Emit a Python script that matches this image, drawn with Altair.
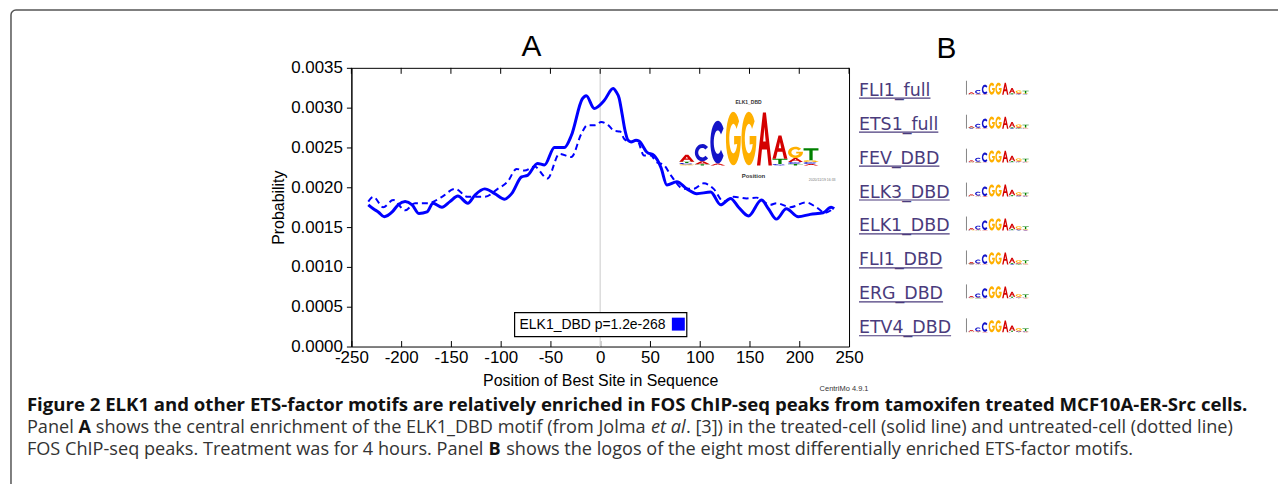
import math
import altair as alt
import pandas as pd

# ---------------- data ----------------
solid_pos = [-233, -228, -223, -217, -209, -203, -196, -189, -182, -174, -168, -159, -151, -143, -133,
             -126, -116, -106, -96, -89, -79, -73, -63, -56, -46, -36, -29, -18, -14, -6,
             4, 13, 16, 19, 22, 25, 28, 31, 36, 39, 47, 54, 61, 67, 77,
             87, 97, 111, 121, 131, 139, 149, 162, 169, 177, 187, 199, 211, 224, 232, 235]
solid_prob = [0.00178, 0.00173, 0.00169, 0.00163, 0.00169, 0.00178, 0.00182, 0.00178, 0.00167, 0.00169,
              0.00180, 0.00175, 0.00182, 0.00189, 0.00180, 0.00190, 0.00198, 0.00192, 0.00185, 0.00192,
              0.00213, 0.00215, 0.00230, 0.00228, 0.00250, 0.00250, 0.00265, 0.00311, 0.00315, 0.00299,
              0.00309, 0.00324, 0.00320, 0.00312, 0.00292, 0.00271, 0.00259, 0.00257, 0.00259, 0.00258,
              0.00244, 0.00240, 0.00225, 0.00203, 0.00207, 0.00198, 0.00192, 0.00194, 0.00178, 0.00186,
              0.00175, 0.00164, 0.00184, 0.00173, 0.00160, 0.00173, 0.00163, 0.00166, 0.00168, 0.00175,
              0.00173]
dashed_pos = [-233, -228, -218, -208, -196, -186, -173, -159, -146, -133, -116, -103, -93, -84, -76,
              -66, -53, -41, -29, -19, -13, -5, 1, 8, 14, 20, 24, 30, 37, 44,
              51, 56, 64, 71, 84, 94, 104, 114, 124, 134, 147, 157, 171, 177, 191,
              207, 217, 226, 234]
dashed_prob = [0.00182, 0.00188, 0.00175, 0.00184, 0.00171, 0.00180, 0.00180, 0.00188, 0.00198, 0.00188,
               0.00188, 0.00198, 0.00207, 0.00223, 0.00221, 0.00226, 0.00211, 0.00242, 0.00238, 0.00267,
               0.00278, 0.00278, 0.00282, 0.00278, 0.00271, 0.00270, 0.00261, 0.00257, 0.00259, 0.00240,
               0.00240, 0.00232, 0.00228, 0.00215, 0.00198, 0.00198, 0.00205, 0.00198, 0.00182, 0.00188,
               0.00186, 0.00187, 0.00178, 0.00180, 0.00175, 0.00181, 0.00175, 0.00168, 0.00173]
x_ticks = [-250, -200, -150, -100, -50, 0, 50, 100, 150, 200, 250]
y_ticks = [0.0, 0.0005, 0.0010, 0.0015, 0.0020, 0.0025, 0.0030, 0.0035]
legend_label = "ELK1_DBD p=1.2e-268"
x_title = "Position of Best Site in Sequence"
y_title = "Probability"
motif_names = ["FLI1_full", "ETS1_full", "FEV_DBD", "ELK3_DBD", "ELK1_DBD", "FLI1_DBD", "ERG_DBD", "ETV4_DBD"]
# sequence logo of ELK1_DBD: letters per column (bottom -> top) and their heights in bits
logo_letters = [["G", "C", "T", "A"], ["T", "A", "C"], ["A", "C"], ["G"], ["G"], ["A"],
                ["C", "T", "A"], ["T", "C", "A", "G"], ["A", "C", "G", "T"]]
logo_bits = [[0.04, 0.05, 0.04, 0.26], [0.04, 0.11, 0.63], [0.07, 1.56], [1.96], [1.96], [1.93],
             [0.05, 0.19, 0.85], [0.05, 0.07, 0.15, 0.41], [0.05, 0.07, 0.07, 0.44]]
caption_title = ("Figure 2 ELK1 and other ETS-factor motifs are relatively enriched in FOS ChIP-seq peaks "
                 "from tamoxifen treated MCF10A-ER-Src cells.")
caption_line2 = [("Panel ", "normal"), ("A ", "bold"),
                 ("shows the central enrichment of the ELK1_DBD motif (from Jolma ", "normal"),
                 ("et al", "italic"),
                 (". [3]) in the treated-cell (solid line) and untreated-cell (dotted line)", "normal")]
caption_line3 = [("FOS ChIP-seq peaks. Treatment was for 4 hours. Panel ", "normal"), ("B ", "bold"),
                 ("shows the logos of the eight most differentially enriched ETS-factor motifs.", "normal")]

# ---------------- layout helpers ----------------
W, H = 500, 280
OX, OY = 353, 67
TOTAL_W, TOTAL_H = 1276, 476
PAD = {"left": OX - 8, "top": OY - 8, "right": TOTAL_W - (OX - 8) - W, "bottom": TOTAL_H - (OY - 8) - H}


def rx(v):
    return v - OX


def ry(v):
    return v - OY


FONT_AX = "Liberation Sans"
BLUE = "#0000ff"
LETTER_COLORS = {"A": "#d40000", "C": "#1414c8", "G": "#ffb000", "T": "#008000"}

# approximate Open Sans advance widths (units of 1/2048 em)
OS = {" ": 532, "(": 596, ")": 596, ",": 502, "-": 659, ".": 545, "[": 678, "]": 678, "_": 869,
      "0": 1171, "1": 1171, "2": 1171, "3": 1171, "4": 1171, "5": 1171, "6": 1171, "7": 1171, "8": 1171, "9": 1171,
      "A": 1296, "B": 1327, "C": 1292, "D": 1493, "E": 1139, "F": 1057, "G": 1491, "H": 1511, "I": 571,
      "J": 547, "K": 1257, "L": 1073, "M": 1843, "N": 1544, "O": 1595, "P": 1233, "Q": 1595, "R": 1266,
      "S": 1104, "T": 1114, "U": 1503, "V": 1235, "W": 1870, "X": 1219, "Y": 1153, "Z": 1169,
      "a": 1139, "b": 1255, "c": 975, "d": 1255, "e": 1149, "f": 694, "g": 1122, "h": 1257, "i": 518,
      "j": 518, "k": 1075, "l": 518, "m": 1905, "n": 1257, "o": 1237, "p": 1255, "q": 1255, "r": 846,
      "s": 977, "t": 723, "u": 1257, "v": 1026, "w": 1593, "x": 1073, "y": 1028, "z": 965}
STYLE_FACTOR = {"normal": 1.0, "bold": 1.07, "italic": 0.97}


def em_width(s, style="normal"):
    return sum(OS.get(c, 1150) for c in s) / 2048.0 * STYLE_FACTOR[style]


# DejaVu Sans widths (em) for panel-B labels (underline length)
DJV = {"F": .575, "L": .557, "I": .295, "1": .636, "_": .5, "f": .352, "u": .634, "l": .278, "E": .632,
       "T": .611, "S": .635, "V": .684, "D": .770, "B": .686, "K": .656, "3": .636, "R": .695, "G": .775,
       "4": .636}


def ring(r, a0, a1, n=24):
    pts = []
    for i in range(n + 1):
        a = math.radians(a0 + (a1 - a0) * i / n)
        pts.append((r * math.cos(a), r * math.sin(a)))
    return pts


def sub(pts, k):
    return "M " + " L ".join(f"{x * k:.3f} {y:.3f}" for x, y in pts) + " Z"


def glyph(letter, k):
    if letter == "A":
        outer = [(-1, 1), (-0.2, -1), (0.2, -1), (1, 1), (0.55, 1), (0.33, 0.4), (-0.33, 0.4), (-0.55, 1)]
        hole = [(-0.17, 0.1), (0.17, 0.1), (0, -0.45)]
        return sub(outer, k) + " " + sub(hole, k)
    if letter == "C":
        return sub(ring(1, 40, 320) + ring(0.55, 320, 40), k)
    if letter == "G":
        return sub(ring(1, 320, 0) + [(1, -0.1), (0.1, -0.1), (0.1, 0.22)] + ring(0.55, 22, 320), k)
    return sub([(-1, -1), (1, -1), (1, -0.62), (0.22, -0.62), (0.22, 1), (-0.22, 1), (-0.22, -0.62),
                (-1, -0.62)], k)


def glyph_rows(x0, dx, base, ppb, w):
    rows = []
    for i, (letters, bits) in enumerate(zip(logo_letters, logo_bits)):
        cum = 0.0
        for L, b in zip(letters, bits):
            h = b * ppb
            rows.append({"gx": x0 + dx * i, "gy": base - cum - h / 2, "path": glyph(L, w / h),
                         "area": h * h, "fill": LETTER_COLORS[L]})
            cum += h
    return rows


def one():
    return alt.Data(values=[{"k": 0}])


def txt(t, x, y, **kw):
    return alt.Chart(one()).mark_text(text=t, **kw).encode(x=alt.value(x), y=alt.value(y))


# ---------------- main plot ----------------
x_scale = alt.Scale(domain=[-250, 250], nice=False, zero=False)
y_scale = alt.Scale(domain=[0, 0.0035], nice=False, zero=False)
x_axis = alt.Axis(orient="bottom", values=x_ticks, title=x_title, tickSize=6, offset=-6, domain=False,
                  grid=False, labelPadding=3, titlePadding=7, labelFlush=False, labelOverlap=False,
                  labelExpr="(datum.value < 0 ? '-' : '') + abs(datum.value)")
y_axis = alt.Axis(orient="left", values=y_ticks, format=".4f", title=y_title, tickSize=5,
                  labelPadding=4, titlePadding=4, grid=False, labelOverlap=False)
X = alt.X("pos:Q", scale=x_scale, axis=x_axis)
Y = alt.Y("prob:Q", scale=y_scale, axis=y_axis)

box = alt.Chart(one()).mark_rect(fillOpacity=0, stroke="#555555", strokeWidth=1.5, cornerRadius=5).encode(
    x=alt.value(rx(11)), x2=alt.value(rx(1400)), y=alt.value(ry(9)), y2=alt.value(ry(700)))

zero_rule = alt.Chart(pd.DataFrame({"pos": [0]})).mark_rule(color="#dcdcdc", strokeWidth=1.5).encode(x=X)

top_ticks = alt.Chart(pd.DataFrame({"pos": x_ticks})).mark_rule(color="black", strokeWidth=1).encode(
    x=X, y=alt.value(0), y2=alt.value(6))

dashed = alt.Chart(pd.DataFrame({"pos": dashed_pos, "prob": dashed_prob})).mark_line(
    color=BLUE, strokeWidth=2, strokeDash=[6, 4], interpolate="monotone").encode(x=X, y=Y)

solid = alt.Chart(pd.DataFrame({"pos": solid_pos, "prob": solid_prob})).mark_line(
    color=BLUE, strokeWidth=3, interpolate="monotone").encode(x=X, y=Y)

legend_box = alt.Chart(one()).mark_rect(fill="white", stroke="black", strokeWidth=1.2).encode(
    x=alt.value(rx(517)), x2=alt.value(rx(690)), y=alt.value(ry(313)), y2=alt.value(ry(337)))
legend_text = txt(legend_label, rx(522), ry(325.5), font=FONT_AX, fontSize=14, align="left", baseline="middle",
                  color="black")
legend_sq = alt.Chart(one()).mark_rect(fill=BLUE).encode(
    x=alt.value(rx(675)), x2=alt.value(rx(688)), y=alt.value(ry(318)), y2=alt.value(ry(331)))

# logos (main inset + eight small logos of panel B)
rows = glyph_rows(rx(690), 15.6, ry(165), 27.5, 15.0)
row_gap = 34.1
for r in range(len(motif_names)):
    rows += glyph_rows(rx(976), 6.8, ry(94 + row_gap * r), 6.2, 6.3)
glyphs = alt.Chart(pd.DataFrame(rows)).mark_point(filled=True, opacity=1, strokeWidth=0).encode(
    x=alt.X("gx:Q", scale=None, axis=None),
    y=alt.Y("gy:Q", scale=None, axis=None),
    shape=alt.Shape("path:N", scale=None, legend=None),
    size=alt.Size("area:Q", scale=None, legend=None),
    color=alt.Color("fill:N", scale=None, legend=None))

logo_title = txt("ELK1_DBD", rx(752), ry(101), font=FONT_AX, fontSize=5, fontWeight="bold", color="#333333")
logo_xlab = txt("Position", rx(757), ry(176), font=FONT_AX, fontSize=6, fontWeight="bold", color="#333333")
logo_date = txt("2020/11/19 16:33", rx(826), ry(180), font=FONT_AX, fontSize=3.5, color="#777777")
centrimo = txt("CentriMo 4.9.1", rx(848), ry(390), font=FONT_AX, fontSize=7.5, color="#333333")

title_a = txt("A", rx(534), ry(55), font=FONT_AX, fontSize=30, baseline="alphabetic", color="black")
title_b = txt("B", rx(951), ry(57), font=FONT_AX, fontSize=30, baseline="alphabetic", color="black")

# panel B labels with underline
LAB_X = 863
LAB_FS = 17.5
lab_rows, ul_rows, ax_rows = [], [], []
for r, name in enumerate(motif_names):
    base = 95 + row_gap * r
    lab_rows.append({"t": name, "x": rx(LAB_X), "y": ry(base)})
    wpx = sum(DJV.get(c, 0.6) for c in name) * LAB_FS
    ul_rows.append({"x": rx(LAB_X), "x2": rx(LAB_X) + wpx, "y": ry(base + 2.5)})
    ax_rows.append({"x": rx(971), "y": ry(94 + row_gap * r - 14), "y2": ry(94 + row_gap * r)})
labels_b = alt.Chart(pd.DataFrame(lab_rows)).mark_text(
    font="DejaVu Sans", fontSize=LAB_FS, align="left", baseline="alphabetic", color="#4a3b7c").encode(
    x=alt.X("x:Q", scale=None, axis=None), y=alt.Y("y:Q", scale=None, axis=None), text="t:N")
underlines = alt.Chart(pd.DataFrame(ul_rows)).mark_rule(color="#4a3b7c", strokeWidth=1.2).encode(
    x=alt.X("x:Q", scale=None, axis=None), x2="x2:Q", y=alt.Y("y:Q", scale=None, axis=None))
mini_axes = alt.Chart(pd.DataFrame(ax_rows)).mark_rule(color="#666666", strokeWidth=0.8).encode(
    x=alt.X("x:Q", scale=None, axis=None), y=alt.Y("y:Q", scale=None, axis=None), y2="y2:Q")

# caption
CAP_X = 27
fs = 1111.0 / em_width("".join(s for s, _ in caption_line3))
cap_layers = [txt(caption_title, rx(CAP_X), ry(412), font="Open Sans", fontSize=fs * 1.025, fontWeight="bold",
                  align="left", baseline="alphabetic", color="#111111")]
for line, base in ((caption_line2, 434), (caption_line3, 456)):
    xpos = CAP_X
    for seg, style in line:
        kw = dict(font="Open Sans", fontSize=fs, align="left", baseline="alphabetic", color="#333333")
        if style == "bold":
            kw.update(fontWeight="bold", color="#111111")
        if style == "italic":
            kw.update(fontStyle="italic")
        cap_layers.append(txt(seg.strip(), rx(xpos), ry(base), **kw))
        xpos += em_width(seg, style) * fs

chart = alt.layer(
    box, zero_rule, top_ticks, dashed, solid, legend_box, legend_text, legend_sq, glyphs,
    logo_title, logo_xlab, logo_date, centrimo, title_a, title_b,
    labels_b, underlines, mini_axes, *cap_layers
).properties(
    width=W, height=H, autosize=alt.AutoSizeParams(type="none"), padding=PAD
).configure_view(
    stroke="black", strokeWidth=1
).configure_axis(
    labelFont=FONT_AX, labelFontSize=17, labelColor="black", titleFont=FONT_AX, titleFontSize=16,
    titleFontWeight="normal", titleColor="black", tickColor="black", domainColor="black"
)

chart.save("out.html", embed_options={"renderer": "svg", "actions": False})
